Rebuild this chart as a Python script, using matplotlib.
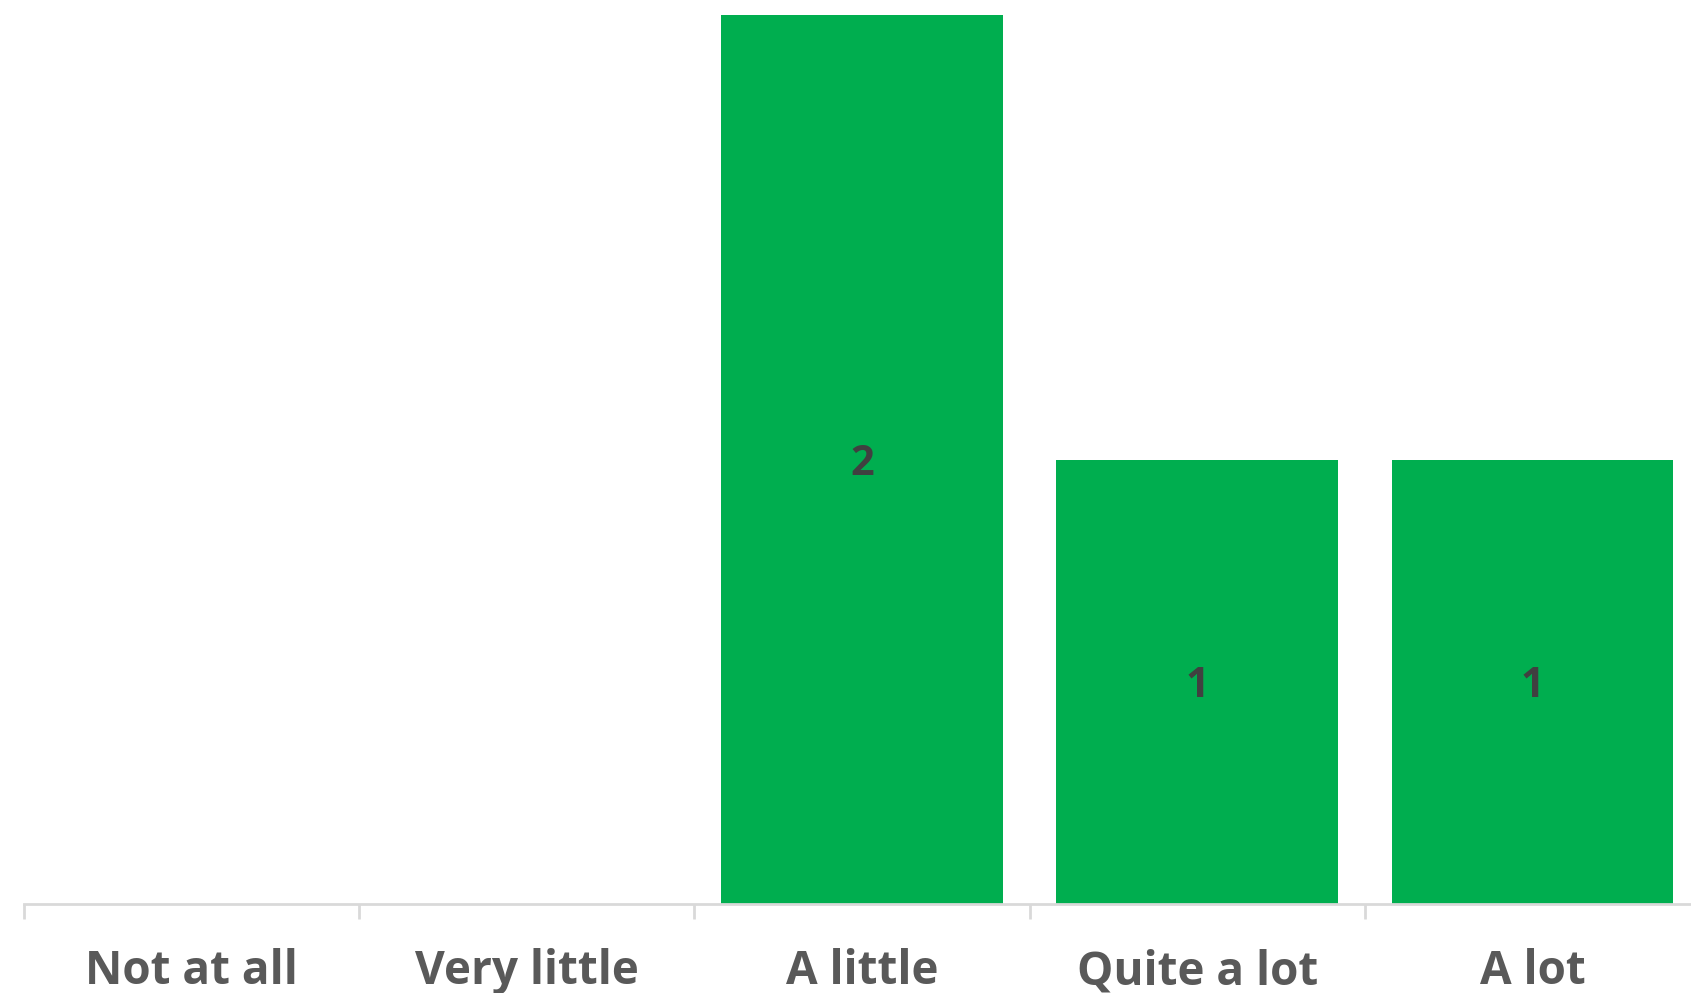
import matplotlib
matplotlib.use("Agg")
import matplotlib.pyplot as plt

categories = ["Not at all", "Very little", "A little", "Quite a lot", "A lot"]
values = [0, 0, 2, 1, 1]

plt.rcParams['font.family'] = ['Open Sans', 'DejaVu Sans']

fig = plt.figure(figsize=(16.91, 9.93), dpi=100)
ax = fig.add_axes([0.014, 0.0896, 0.9915, 0.8953])

x = list(range(len(categories)))
bars = ax.bar(x, values, width=0.84, color="#00AE4F", zorder=1)

for xi, v in zip(x, values):
    if v > 0:
        ax.text(xi, v / 2, str(v), ha="center", va="center_baseline", fontsize=30,
                fontweight="bold", color="#404040")

ax.set_xlim(-0.5, len(categories) - 0.5)
ax.set_ylim(0, 2)
ax.set_xticks([i - 0.5 for i in range(len(categories) + 1)])
ax.set_xticklabels([])
ax.set_xticks(x, minor=True)
ax.set_xticklabels(categories, minor=True, fontsize=33, fontweight="bold", color="#595959")
ax.tick_params(axis="x", which="major", length=11, width=2, color="#D9D9D9")
ax.tick_params(axis="x", which="minor", length=0, pad=32)
ax.set_yticks([])
for s in ["top", "right", "left"]:
    ax.spines[s].set_visible(False)
ax.spines["bottom"].set_color("#D9D9D9")
ax.spines["bottom"].set_linewidth(2)

fig.savefig("out.png", dpi=100)
